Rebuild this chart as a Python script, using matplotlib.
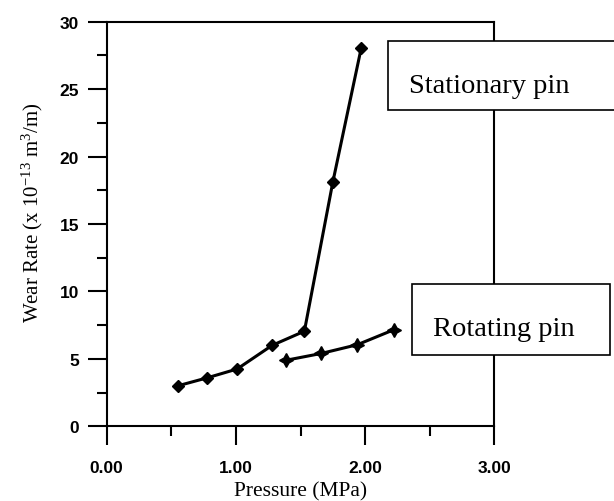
import matplotlib
matplotlib.use('Agg')
import matplotlib.pyplot as plt
from matplotlib.patches import Rectangle
from matplotlib.ticker import MultipleLocator

plt.rcParams['mathtext.fontset'] = 'custom'
plt.rcParams['mathtext.rm'] = 'Liberation Serif'
plt.rcParams['mathtext.default'] = 'rm'

# wear rate vs pressure, two pin configurations
stationary_pressure = [0.55, 0.78, 1.01, 1.28, 1.53, 1.75, 1.97]
stationary_wear = [3.0, 3.6, 4.25, 6.0, 7.05, 18.1, 28.05]

rotating_pressure = [1.39, 1.66, 1.94, 2.22]
rotating_wear = [4.9, 5.4, 6.05, 7.15]

x_ticks = [0.0, 1.0, 2.0, 3.0]
x_tick_labels = ['0.00', '1.00', '2.00', '3.00']
y_ticks = [0, 5, 10, 15, 20, 25, 30]
y_tick_labels = ['0', '5', '10', '15', '20', '25', '30']

W, H = 614, 502
fig = plt.figure(figsize=(W / 100, H / 100), dpi=100, facecolor='white')
ax = fig.add_axes([106.7 / W, 1 - 427.3 / H, 387.6 / W, 404.6 / H])

ax.plot(stationary_pressure, stationary_wear, color='black', lw=2.2,
        marker='D', markersize=6, clip_on=False, zorder=3)
ax.plot(rotating_pressure, rotating_wear, color='black', lw=2.2,
        marker=(4, 1, 0), markersize=10, clip_on=False, zorder=3)

tick_font = dict(fontfamily='Liberation Sans', fontweight='bold', fontsize=12.5)
ax.set_xlim(0, 3)
ax.set_ylim(0, 30)
ax.set_xticks(x_ticks, labels=x_tick_labels, **tick_font)
ax.set_yticks(y_ticks, labels=y_tick_labels, **tick_font)
ax.xaxis.set_minor_locator(MultipleLocator(0.5))
ax.yaxis.set_minor_locator(MultipleLocator(2.5))

for s in ax.spines.values():
    s.set_linewidth(1.5)
ax.tick_params(which='major', direction='out', length=14, width=1.5)
ax.tick_params(which='minor', direction='out', length=7, width=1.5)
ax.tick_params(axis='x', which='major', pad=10)
ax.tick_params(axis='y', which='major', pad=6)

ax.set_xlabel('Pressure (MPa)', fontfamily='Liberation Serif', fontsize=15.5)
ax.set_ylabel('Wear Rate (x 10$^{-13}$ m$^{3}$/m)', fontfamily='Liberation Serif',
              fontsize=15)
ax.xaxis.set_label_coords(0.5, -0.135)
ax.yaxis.set_label_coords(-0.16, 0.53)

# labelled boxes sitting over the right spine
boxes = [
    ('Stationary pin', 388, 41.7, 240, 69.3, 409, 93),
    ('Rotating pin', 412.3, 285, 197.7, 71, 433, 336),
]
for text, x0, top, w, h, tx, ty in boxes:
    fig.add_artist(Rectangle((x0 / W, 1 - (top + h) / H), w / W, h / H,
                             transform=fig.transFigure, facecolor='white',
                             edgecolor='black', lw=1.2, zorder=5))
    fig.text(tx / W, 1 - ty / H, text, fontfamily='Liberation Serif',
             fontsize=20.5, va='baseline', ha='left', zorder=6)

fig.savefig('out.png', dpi=100, facecolor='white')
